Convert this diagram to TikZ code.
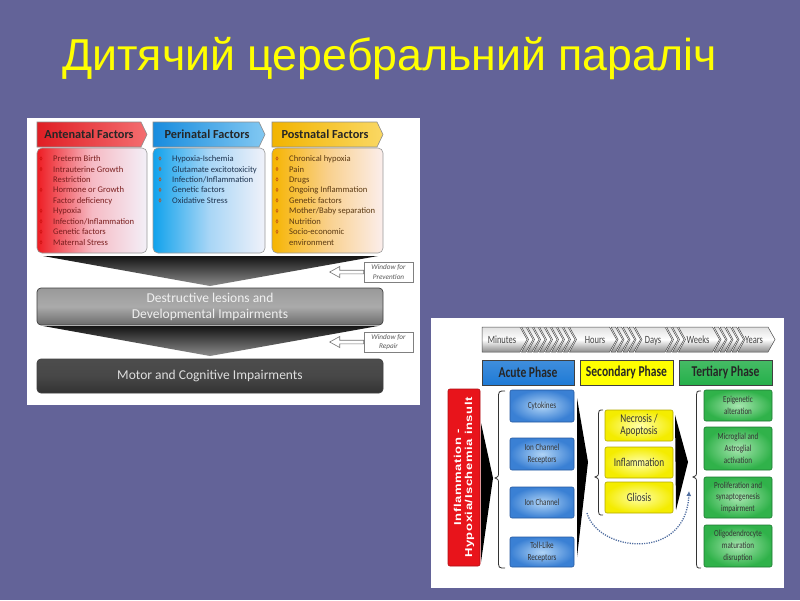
\documentclass[tikz,border=0pt]{standalone}
\usepackage{fontspec}
\setmainfont{Carlito}
\newfontfamily\titlefont{Liberation Sans}
\newfontfamily\insultfont[FakeStretch=1.3,LetterSpace=6]{Liberation Sans}
\newfontfamily\narrowfont[FakeStretch=0.77]{Carlito}
\usetikzlibrary{arrows.meta,calc}

\definecolor{slidebg}{RGB}{99,99,152}
\definecolor{titley}{RGB}{255,255,0}
\definecolor{antL}{RGB}{224,30,36}
\definecolor{antR}{RGB}{244,110,112}
\definecolor{periL}{RGB}{24,140,222}
\definecolor{periR}{RGB}{130,200,242}
\definecolor{postL}{RGB}{242,180,0}
\definecolor{postR}{RGB}{250,216,100}
\definecolor{boxAL}{RGB}{238,28,34}
\definecolor{boxAM}{RGB}{246,186,196}
\definecolor{boxAR}{RGB}{243,240,248}
\definecolor{boxBL}{RGB}{16,162,236}
\definecolor{boxBM}{RGB}{168,214,246}
\definecolor{boxBR}{RGB}{240,242,250}
\definecolor{boxCL}{RGB}{246,180,0}
\definecolor{boxCM}{RGB}{249,208,140}
\definecolor{boxCR}{RGB}{251,238,236}
\definecolor{txtA}{RGB}{122,30,30}
\definecolor{txtB}{RGB}{30,52,80}
\definecolor{txtC}{RGB}{92,58,18}
\definecolor{bulA}{RGB}{208,16,16}
\definecolor{bulB}{RGB}{190,80,26}
\definecolor{acuteblue}{RGB}{30,122,214}
\definecolor{secyellow}{RGB}{255,255,0}
\definecolor{tertgreen}{RGB}{37,176,74}
\definecolor{insultred}{RGB}{232,20,27}
\definecolor{blueL}{RGB}{176,212,246}
\definecolor{blueM}{RGB}{58,128,212}
\definecolor{blueD}{RGB}{40,90,160}
\definecolor{yelL}{RGB}{255,255,170}
\definecolor{yelM}{RGB}{244,236,0}
\definecolor{yelD}{RGB}{180,170,0}
\definecolor{grnL}{RGB}{168,230,176}
\definecolor{grnM}{RGB}{48,178,74}
\definecolor{grnD}{RGB}{30,120,50}
\definecolor{dotc}{RGB}{80,110,160}

\newcommand\tlchev[2]{\shadedraw[chevst] (#1,327) -- ++(#2,0) -- ++(7,12.5) -- ++(-7,12.5) -- ++(-#2,0) -- ++(7,-12.5) -- cycle;}
\newcommand\tlchevf[2]{\shadedraw[chevst] (#1,327) -- ++(#2,0) -- ++(7,12.5) -- ++(-7,12.5) -- ++(-#2,0) -- cycle;}
\newcommand\mybrace[5]{\draw[brc] (#2,#3) .. controls (#1+3.5,#3) .. (#1+3.5,#3+8) -- (#1+3.5,#5-6) .. controls (#1+3.5,#5-1.5) .. (#1,#5) .. controls (#1+3.5,#5+1.5) .. (#1+3.5,#5+6) -- (#1+3.5,#4-8) .. controls (#1+3.5,#4) .. (#2,#4);}

\begin{document}
\begin{tikzpicture}[x=1pt,y=-1pt,
  hdr/.style={draw=black!45, line width=0.6},
  hdrtext/.style={inner sep=0, font=\fontsize{12.3}{14}\selectfont\bfseries, text=black!85},
  fbox/.style={draw=black!40, line width=0.6, rounded corners=5},
  itA/.style={anchor=base west, inner sep=0, font=\fontsize{8.6}{10}\selectfont, text=txtA},
  itB/.style={itA, text=txtB},
  itC/.style={itA, text=txtC},
  blA/.style={draw=bulA, line width=0.55},
  blB/.style={draw=bulB, line width=0.55},
  funnel/.style={top color=black!92, bottom color=black!45},
  bigbox/.style={draw=black!75, line width=0.7, rounded corners=4, minimum width=346, inner sep=0, align=center, font=\fontsize{13.5}{16}\selectfont},
  winbox/.style={draw=black!50, fill=white, line width=0.6, minimum width=49, minimum height=20, inner sep=0, align=center, font=\fontsize{7.2}{9.5}\selectfont\itshape, text=black!65},
  openarr/.style={draw=black!55, fill=white, line width=0.6},
  chevst/.style={draw=black!70, line width=0.5, top color=black!12, bottom color=black!45, middle color=white},
  tltext/.style={anchor=base, inner sep=0, font=\narrowfont\fontsize{11}{12}\selectfont, text=black!75},
  phase/.style={draw=black!75, line width=0.7, minimum width=93, minimum height=25, inner sep=0, font=\narrowfont\fontsize{15}{17}\selectfont\bfseries, text=black!85},
  bluebox/.style={draw=blueD, line width=0.6, rounded corners=2, inner color=blueL, outer color=blueM, minimum width=64, inner sep=0, align=center, font=\narrowfont\fontsize{9.3}{11.7}\selectfont, text=black!80},
  yelbox/.style={draw=yelD, line width=0.6, rounded corners=2, inner color=yelL, outer color=yelM, minimum width=68, inner sep=0, align=center, font=\narrowfont\fontsize{12}{12}\selectfont, text=black!80},
  grnbox/.style={draw=grnD, line width=0.6, rounded corners=2, inner color=grnL, outer color=grnM, minimum width=68, inner sep=0, align=center, font=\narrowfont\fontsize{9.2}{11.7}\selectfont, text=black!80},
  wedge/.style={fill=black},
  brc/.style={draw=black!80, line width=0.8},
  dotarr/.style={draw=dotc, line width=1.3, dash pattern=on 1.2pt off 1.2pt, -{Latex[length=5pt,width=5pt]}}
]
\fill[slidebg] (0,0) rectangle (800,600);
\useasboundingbox (0,0) rectangle (800,600);

% title
\node[anchor=base west, inner sep=0, text=titley, font=\titlefont\fontsize{44.7}{50}\selectfont] (title) at (62,70) {Дитячий церебральний параліч};

% ---------------- left panel
\fill[white] (27,118) rectangle (420,405);

\shadedraw[hdr, left color=antL, right color=antR] (37,122) -- (141,122) -- (147,134.5) -- (141,147) -- (37,147) -- cycle;
\shadedraw[hdr, left color=periL, right color=periR] (153,122) -- (259,122) -- (265,134.5) -- (259,147) -- (153,147) -- cycle;
\shadedraw[hdr, left color=postL, right color=postR] (272,122) -- (377,122) -- (383,134.5) -- (377,147) -- (272,147) -- cycle;
\node[hdrtext] (hAnte) at (89,134.5) {Antenatal Factors};
\node[hdrtext] (hPeri) at (207,134.5) {Perinatal Factors};
\node[hdrtext] (hPost) at (325,134.5) {Postnatal Factors};

\shadedraw[fbox, left color=boxAL, right color=boxAR, middle color=boxAM] (37,148) rectangle (147,253);
\shadedraw[fbox, left color=boxBL, right color=boxBR, middle color=boxBM] (153,148) rectangle (265,253);
\shadedraw[fbox, left color=boxCL, right color=boxCR, middle color=boxCM] (272,148) rectangle (383,253);

% antenatal items
\node[itA] (a1) at (53,161.5) {Preterm Birth};
\node[itA] (a2) at (53,172.0) {Intrauterine Growth};
\node[itA] (a3) at (53,182.4) {Restriction};
\node[itA] (a4) at (53,192.9) {Hormone or Growth};
\node[itA] (a5) at (53,203.3) {Factor deficiency};
\node[itA] (a6) at (53,213.8) {Hypoxia};
\node[itA] (a7) at (53,224.3) {Infection/Inflammation};
\node[itA] (a8) at (53,234.7) {Genetic factors};
\node[itA] (a9) at (53,245.2) {Maternal Stress};
\foreach \yy in {161.5,172.0,192.9,213.8,224.3,234.7,245.2}
  {\draw[blA] (41,\yy-3) ellipse (1.1 and 1.7);}

% perinatal items
\node[itB] (b1) at (172,161.5) {Hypoxia-Ischemia};
\node[itB] (b2) at (172,172.0) {Glutamate excitotoxicity};
\node[itB] (b3) at (172,182.4) {Infection/Inflammation};
\node[itB] (b4) at (172,192.9) {Genetic factors};
\node[itB] (b5) at (172,203.3) {Oxidative Stress};
\foreach \yy in {161.5,172.0,182.4,192.9,203.3}
  {\draw[blB] (160,\yy-3) ellipse (1.1 and 1.7);}

% postnatal items
\node[itC] (c1) at (289,161.5) {Chronical hypoxia};
\node[itC] (c2) at (289,172.0) {Pain};
\node[itC] (c3) at (289,182.4) {Drugs};
\node[itC] (c4) at (289,192.9) {Ongoing Inflammation};
\node[itC] (c5) at (289,203.3) {Genetic factors};
\node[itC] (c6) at (289,213.8) {Mother/Baby separation};
\node[itC] (c7) at (289,224.3) {Nutrition};
\node[itC] (c8) at (289,234.7) {Socio-economic};
\node[itC] (c9) at (289,245.2) {environment};
\foreach \yy in {161.5,172.0,182.4,192.9,203.3,213.8,224.3,234.7}
  {\draw[blB] (277,\yy-3) ellipse (1.1 and 1.7);}

% funnels
\shade[funnel] (43,256) -- (378,256) -- (210,286) -- cycle;
\shade[funnel] (43,326) -- (378,326) -- (210,356) -- cycle;

\node[bigbox, minimum height=37, top color=black!40, bottom color=black!58, middle color=black!33, text=black!6] (destr) at (210,306.5) {Destructive lesions and\\Developmental Impairments};
\node[bigbox, minimum height=34, top color=black!70, bottom color=black!80, middle color=black!72, text=black!13] (motor) at (210,376) {Motor and Cognitive Impairments};

\node[winbox] (wprev) at (388.5,272) {Window for\\Prevention};
\node[winbox] (wrep) at (388.5,342) {Window for\\Repair};
\draw[openarr] (wprev.west) ++(0,-1.8) -- ++(-24,0) -- ++(0,-3.7) -- ++(-10,5.5) -- ++(10,5.5) -- ++(0,-3.7) -- ++(24,0) -- cycle;
\draw[openarr] (wrep.west) ++(0,-1.8) -- ++(-24,0) -- ++(0,-3.7) -- ++(-10,5.5) -- ++(10,5.5) -- ++(0,-3.7) -- ++(24,0) -- cycle;

% ---------------- right panel
\fill[white] (431,318) rectangle (784,588);

% timeline
\tlchevf{482}{38}
\foreach \k in {0,...,7} {\tlchev{521.5+6*\k}{4.5}}
\tlchev{569.5}{40}
\foreach \k in {0,...,3} {\tlchev{611+6*\k}{4.5}}
\tlchev{635}{30}
\foreach \k in {0,1} {\tlchev{666.5+6*\k}{4.5}}
\tlchev{678.5}{34}
\foreach \k in {0,...,3} {\tlchev{714+6*\k}{4.5}}
\tlchev{738}{30}
\node[tltext] (tMin) at (502,343.5) {Minutes};
\node[tltext] (tHrs) at (595,343.5) {Hours};
\node[tltext] (tDay) at (653,343.5) {Days};
\node[tltext] (tWk) at (698,343.5) {Weeks};
\node[tltext] (tYr) at (754,343.5) {Years};

% phases
\node[phase, minimum width=92, top color=acuteblue!85!white, bottom color=acuteblue] (acute) at (528,372.5) {Acute Phase};
\node[phase, fill=secyellow] (second) at (626.5,372.5) {Secondary Phase};
\node[phase, top color=tertgreen!85!white, bottom color=tertgreen] (tert) at (725.5,372.5) {Tertiary Phase};

% insult
\node[rotate=90, minimum width=177, minimum height=32, fill=insultred, draw=insultred!75!black, line width=0.6, rounded corners=2, text=white, align=center, inner sep=0, font=\insultfont\bfseries\fontsize{10}{11}\selectfont] (insult) at (464,477.5) {Inflammation -\\Hypoxia/Ischemia insult};

% wedges
\fill[wedge] (481,423) -- (493,478) -- (481,562) -- cycle;
\fill[wedge] (577,398) -- (588,462) -- (577,557) -- cycle;
\fill[wedge] (675,415) -- (688,462) -- (676,510) -- cycle;

% braces
\mybrace{495}{505}{391}{568}{478}
\mybrace{595}{603}{410}{515}{477}
\mybrace{693}{701}{391}{568}{477}

% blue boxes
\node[bluebox, minimum height=32] (cyto) at (542,406) {Cytokines};
\node[bluebox, minimum height=32] (icr) at (542,454) {Ion Channel\\Receptors};
\node[bluebox, minimum height=31] (ic) at (542,502.5) {Ion Channel};
\node[bluebox, minimum height=30] (tlr) at (542,552) {Toll-Like\\Receptors};

% yellow boxes
\node[yelbox, minimum height=31] (necro) at (639,425.5) {Necrosis /\\Apoptosis};
\node[yelbox, minimum height=31] (infl) at (639,462.5) {Inflammation};
\node[yelbox, minimum height=31] (glio) at (639,497.5) {Gliosis};

% green boxes
\node[grnbox, minimum height=31] (epi) at (738,405.5) {Epigenetic\\alteration};
\node[grnbox, minimum height=43] (micro) at (738,448.5) {Microglial and\\Astroglial\\activation};
\node[grnbox, minimum height=41] (prolif) at (738,497.5) {Proliferation and\\synaptogenesis\\impairment};
\node[grnbox, minimum height=42] (oligo) at (738,546) {Oligodendrocyte\\maturation\\disruption};

% dotted feedback arrow
\coordinate (dstart) at (587,513);
\coordinate (dend) at (689,491);
\draw[dotarr] (dstart) .. controls (598,552) and (686,562) .. (dend);
\end{tikzpicture}
\end{document}
